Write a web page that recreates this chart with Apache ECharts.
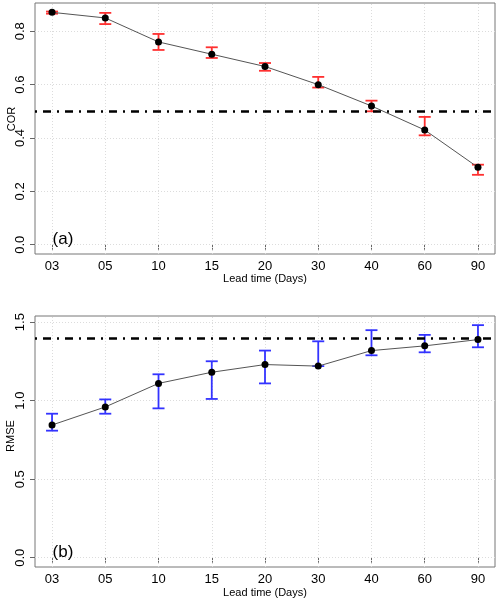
<!DOCTYPE html>
<html><head><meta charset="utf-8">
<script src="https://cdn.jsdelivr.net/npm/echarts@6/dist/echarts.min.js"></script>
<style>html,body{margin:0;padding:0;background:#fff}#c{width:500px;height:602px}</style>
</head><body><div id="c"></div>
<script>
const categories = ['03','05','10','15','20','30','40','60','90'];
const corMean = [0.871, 0.850, 0.760, 0.714, 0.668, 0.600, 0.520, 0.430, 0.290];
const corLow  = [0.866, 0.827, 0.730, 0.700, 0.652, 0.589, 0.500, 0.410, 0.262];
const corHigh = [0.874, 0.869, 0.790, 0.740, 0.681, 0.629, 0.540, 0.479, 0.300];
const rmseMean = [0.845, 0.960, 1.110, 1.181, 1.230, 1.220, 1.319, 1.349, 1.389];
const rmseLow  = [0.809, 0.917, 0.951, 1.011, 1.110, 1.220, 1.289, 1.308, 1.340];
const rmseHigh = [0.917, 1.008, 1.168, 1.251, 1.319, 1.378, 1.449, 1.419, 1.481];
const corRef = 0.5;
const rmseRef = 1.4;
const corTicks = [0, 0.2, 0.4, 0.6, 0.8];
const rmseTicks = [0, 0.5, 1.0, 1.5];
const xPos = categories.map((c, i) => i + 1);

const font = "'Liberation Sans', Arial, sans-serif";
const chart = echarts.init(document.getElementById('c'), null, {renderer: 'canvas'});

function xAxis(gi) {
  return {
    type: 'value', gridIndex: gi, min: 0.68, max: 9.32,
    axisLine: {show: false},
    axisTick: {show: true, length: 5, customValues: xPos, lineStyle: {color: '#666'}},
    axisLabel: {customValues: xPos, margin: 6, color: '#000', fontSize: 13, fontFamily: font,
      formatter: v => categories[Math.round(v) - 1] || ''},
    splitLine: {show: false}
  };
}
function yAxis(gi, min, max, ticks) {
  return {
    type: 'value', gridIndex: gi, min: min, max: max,
    axisLine: {show: false},
    axisTick: {show: true, length: 5, customValues: ticks, lineStyle: {color: '#666'}},
    axisLabel: {customValues: ticks, rotate: 90, margin: 8, color: '#000', fontSize: 13, fontFamily: font,
      formatter: v => v.toFixed(1)},
    splitLine: {show: false}
  };
}

function errSeries(gi, lows, highs, color) {
  return {
    type: 'custom', xAxisIndex: gi, yAxisIndex: gi, z: 3,
    data: xPos.map((x, i) => [x, lows[i], highs[i]]),
    renderItem: (params, api) => {
      const lo = api.coord([api.value(0), api.value(1)]);
      const hi = api.coord([api.value(0), api.value(2)]);
      const w = 6;
      const st = {stroke: color, lineWidth: 1.8};
      return {type: 'group', children: [
        {type: 'line', shape: {x1: lo[0], y1: lo[1], x2: hi[0], y2: hi[1]}, style: st},
        {type: 'line', shape: {x1: lo[0]-w, y1: lo[1], x2: lo[0]+w, y2: lo[1]}, style: st},
        {type: 'line', shape: {x1: hi[0]-w, y1: hi[1], x2: hi[0]+w, y2: hi[1]}, style: st}
      ]};
    }
  };
}
function gridLines(gi, ticks) {
  return {
    type: 'line', xAxisIndex: gi, yAxisIndex: gi, data: [], z: 1, silent: true,
    markLine: {symbol: 'none', silent: true, z: 1, label: {show: false},
      lineStyle: {color: '#dcdcdc', type: [1, 2], width: 1},
      data: xPos.map(x => ({xAxis: x})).concat(ticks.map(t => ({yAxis: t})))}
  };
}
function mainSeries(gi, means, ref) {
  return {
    type: 'line', xAxisIndex: gi, yAxisIndex: gi, z: 4,
    data: xPos.map((x, i) => [x, means[i]]),
    symbol: 'circle', symbolSize: 7, itemStyle: {color: '#000'},
    lineStyle: {color: '#555', width: 1},
    markLine: {symbol: 'none', silent: true, label: {show: false}, z: 5,
      lineStyle: {color: '#000', width: 2.5, type: [2, 6, 8, 6]},
      data: [{yAxis: ref}]}
  };
}

chart.setOption({
  animation: false,
  backgroundColor: '#fff',
  grid: [
    {left: 35, top: 3, width: 460, height: 251, show: true, borderColor: '#777', borderWidth: 1, backgroundColor: 'transparent'},
    {left: 35, top: 316, width: 460, height: 251, show: true, borderColor: '#777', borderWidth: 1, backgroundColor: 'transparent'}
  ],
  xAxis: [xAxis(0), xAxis(1)],
  yAxis: [yAxis(0, -0.0348, 0.906, corTicks), yAxis(1, -0.0592, 1.5392, rmseTicks)],
  series: [
    gridLines(0, corTicks), gridLines(1, rmseTicks),
    errSeries(0, corLow, corHigh, '#ff3030'),
    errSeries(1, rmseLow, rmseHigh, '#3333ff'),
    mainSeries(0, corMean, corRef), mainSeries(1, rmseMean, rmseRef)
  ],
  graphic: [
    {type: 'text', x: 12, y: 119, rotation: Math.PI/2, style: {text: 'COR', fontSize: 11, fontFamily: font, fill: '#000', align: 'center', verticalAlign: 'middle'}},
    {type: 'text', x: 11, y: 436, rotation: Math.PI/2, style: {text: 'RMSE', fontSize: 11, fontFamily: font, fill: '#000', align: 'center', verticalAlign: 'middle'}},
    {type: 'text', x: 265, y: 279, style: {text: 'Lead time (Days)', fontSize: 11, fontFamily: font, fill: '#000', align: 'center', verticalAlign: 'middle'}},
    {type: 'text', x: 265, y: 593, style: {text: 'Lead time (Days)', fontSize: 11, fontFamily: font, fill: '#000', align: 'center', verticalAlign: 'middle'}},
    {type: 'text', x: 63, y: 239, style: {text: '(a)', fontSize: 17, fontFamily: font, fill: '#000', align: 'center', verticalAlign: 'middle'}},
    {type: 'text', x: 63, y: 552, style: {text: '(b)', fontSize: 17, fontFamily: font, fill: '#000', align: 'center', verticalAlign: 'middle'}}
  ]
});
</script></body></html>
